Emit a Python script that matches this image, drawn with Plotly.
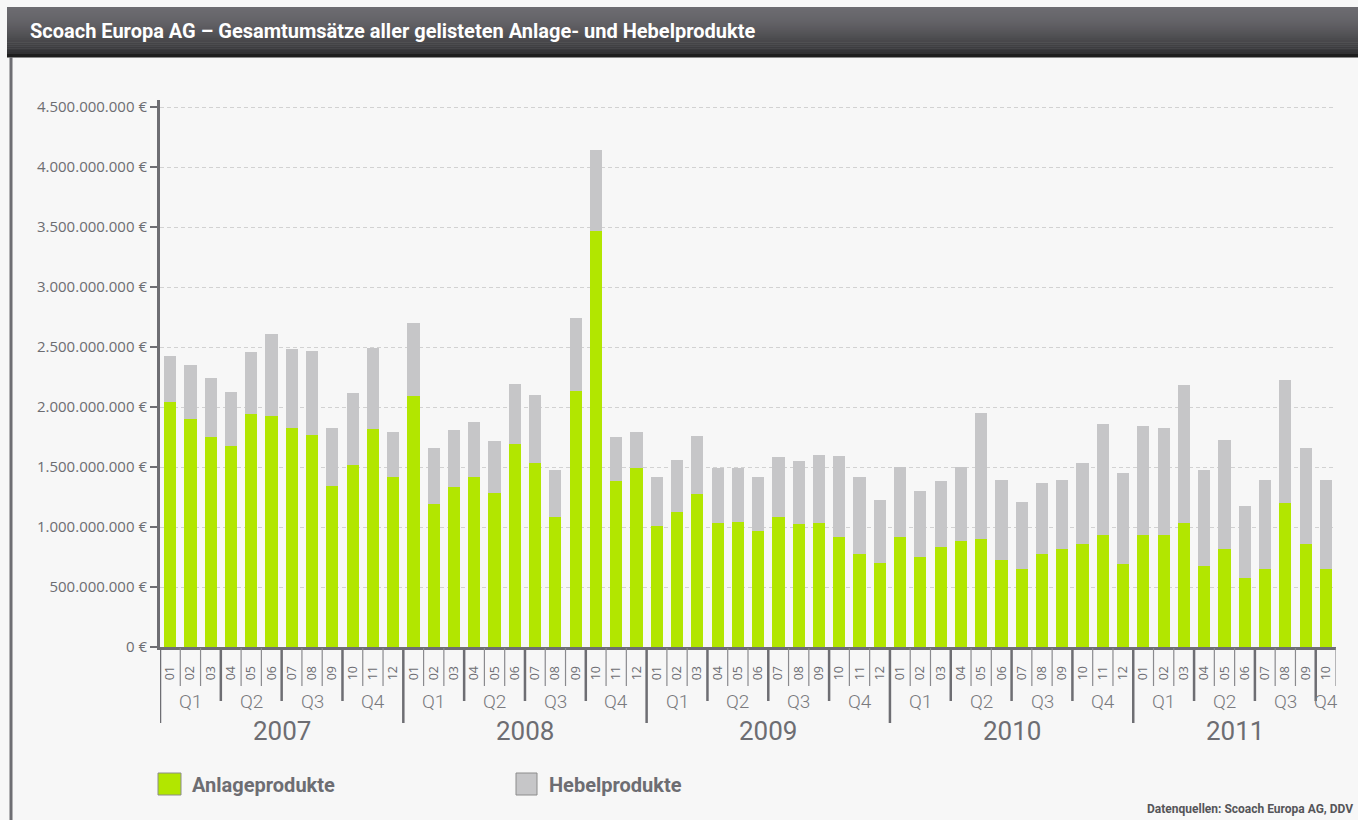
import plotly.graph_objects as go

# ---------------- data (values in million €) ----------------
years = ["2007", "2008", "2009", "2010", "2011"]
months_per_year = [12, 12, 12, 12, 10]
quarter_names = ["Q1", "Q2", "Q3", "Q4"]

anlage = [
    2038, 1902, 1748, 1673, 1939, 1924, 1822, 1766, 1339, 1513, 1816, 1420,   # 2007
    2094, 1188, 1330, 1420, 1287, 1689, 1531, 1083, 2131, 3470, 1380, 1488,   # 2008
    1011, 1123, 1271, 1030, 1045, 968, 1080, 1024, 1030, 919, 776, 702,       # 2009
    919, 752, 835, 885, 903, 721, 653, 776, 820, 857, 937, 690,               # 2010
    937, 931, 1030, 677, 813, 572, 653, 1203, 857, 653,                       # 2011
]
hebel = [
    387, 449, 491, 452, 520, 683, 662, 699, 483, 603, 677, 368,               # 2007
    606, 467, 476, 451, 427, 501, 566, 396, 613, 669, 368, 300,               # 2008
    409, 433, 486, 461, 446, 446, 501, 523, 566, 671, 638, 526,               # 2009
    578, 544, 545, 618, 1046, 668, 559, 594, 575, 680, 919, 758,              # 2010
    903, 891, 1151, 802, 916, 606, 742, 1021, 798, 742,                       # 2011
]
y_tick_values = [0, 500e6, 1000e6, 1500e6, 2000e6, 2500e6, 3000e6, 3500e6, 4000e6, 4500e6]

series_names = ["Anlageprodukte", "Hebelprodukte"]
title_text = "Scoach Europa AG – Gesamtumsätze aller gelisteten Anlage- und Hebelprodukte"
source_text = "Datenquellen: Scoach Europa AG, DDV"

# ---------------- derived ----------------
month_labels = []
for yr, n in zip(years, months_per_year):
    for m in range(1, n + 1):
        month_labels.append(f"{m:02d}")
idx = list(range(len(month_labels)))
y_tick_text = [f"{v:,.0f}".replace(",", ".") + " €" for v in y_tick_values]

GREEN = "#b2e600"
GREY = "#c6c6c8"
AXIS = "#6e6e73"
TEXT = "#6d6d72"
BG = "#f7f7f7"

W, H = 1358, 820
L, R, T, B = 160, 1336, 100, 647


def px(X):
    return (X - L) / (R - L)


def py(Y):
    return (B - Y) / (B - T)


fig = go.Figure()
fig.add_trace(go.Bar(x=idx, y=[v * 1e6 for v in anlage], name=series_names[0],
                     marker=dict(color=GREEN, line=dict(width=0))))
fig.add_trace(go.Bar(x=idx, y=[v * 1e6 for v in hebel], name=series_names[1],
                     marker=dict(color=GREY, line=dict(width=0))))

shapes = []
annotations = []

# header gradient
top_c = (108, 107, 112)
bot_c = (50, 50, 52)
hy0, hy1 = 7, 54
n = 24
for i in range(n):
    t = i / (n - 1)
    w = t ** 1.6
    c = tuple(int(top_c[k] * (1 - w) + bot_c[k] * w) for k in range(3))
    ya = hy0 + (hy1 - hy0) * i / n
    yb = hy0 + (hy1 - hy0) * (i + 1) / n + 0.6
    shapes.append(dict(type="rect", xref="paper", yref="paper",
                       x0=px(7), x1=px(1362), y0=py(ya), y1=py(yb),
                       fillcolor=f"rgb{c}", line=dict(width=0), layer="below"))
shapes.append(dict(type="rect", xref="paper", yref="paper",
                   x0=px(7), x1=px(1362), y0=py(54), y1=py(57.5),
                   fillcolor="#1e1e1e", line=dict(width=0), layer="below"))
# left frame line
shapes.append(dict(type="line", xref="paper", yref="paper",
                   x0=px(11), x1=px(11), y0=py(57), y1=py(822),
                   line=dict(color=AXIS, width=3)))

annotations.append(dict(text=f"<b>{title_text}</b>", xref="paper", yref="paper",
                        x=px(28), y=py(31), xanchor="left", yanchor="middle",
                        showarrow=False, font=dict(family="Roboto", size=20, color="white")))

# x-axis separators
total = len(month_labels)
year_starts = []
s = 0
for n_m in months_per_year:
    year_starts.append(s)
    s += n_m
for b in range(total + 1):
    xb = b - 0.5
    if b in year_starts:
        kind = "year"
    elif b < total and int(month_labels[b]) % 3 == 1:
        kind = "quarter"
    else:
        kind = "month"
    if kind == "year":
        y_end, wdt, col = 723, 2.5, AXIS
    elif kind == "quarter":
        y_end, wdt, col = 701, 2.5, AXIS
    else:
        y_end, wdt, col = 686, 1.2, "#8a8a8e"
    shapes.append(dict(type="line", xref="x", yref="paper", x0=xb, x1=xb,
                       y0=py(648), y1=py(y_end), line=dict(color=col, width=wdt)))

# quarter and year labels
for yi, (yr, n_m) in enumerate(zip(years, months_per_year)):
    start = year_starts[yi]
    for q in range(4):
        ms = [start + k for k in range(q * 3, min(q * 3 + 3, n_m))]
        if not ms:
            continue
        xc = sum(ms) / len(ms)
        annotations.append(dict(text=quarter_names[q], xref="x", yref="paper",
                                x=xc, y=py(701), xanchor="center", yanchor="middle",
                                showarrow=False,
                                font=dict(family="Roboto", size=19, color="#7a7a7e", weight=300)))
    xc = start + (n_m - 1) / 2
    annotations.append(dict(text=yr, xref="x", yref="paper", x=xc, y=py(731),
                            xanchor="center", yanchor="middle", showarrow=False,
                            font=dict(family="Roboto", size=26, color=TEXT)))

# legend
for (x0, x1, col, tx, name) in [(158, 181, GREEN, 190, series_names[0]),
                                (516, 537, GREY, 547, series_names[1])]:
    shapes.append(dict(type="rect", xref="paper", yref="paper",
                       x0=px(x0), x1=px(x1), y0=py(773), y1=py(795),
                       fillcolor=col, line=dict(color="#8c8c8c", width=1)))
    annotations.append(dict(text=f"<b>{name}</b>", xref="paper", yref="paper",
                            x=px(tx), y=py(785), xanchor="left", yanchor="middle",
                            showarrow=False, font=dict(family="Roboto", size=20, color=TEXT)))

annotations.append(dict(text=f"<b>{source_text}</b>", xref="paper", yref="paper",
                        x=px(1355), y=py(809), xanchor="right", yanchor="middle",
                        showarrow=False, font=dict(family="Roboto", size=12, color="#555559")))

fig.update_layout(
    width=W, height=H,
    margin=dict(l=L, r=W - R, t=T, b=H - B, pad=0),
    paper_bgcolor=BG, plot_bgcolor=BG,
    barmode="stack", bargap=0.4,
    showlegend=False,
    shapes=shapes, annotations=annotations,
    xaxis=dict(range=[-0.5, total - 0.5], tickmode="array", tickvals=idx, ticktext=month_labels,
               tickangle=-90, ticks="outside", ticklen=11, tickcolor="rgba(0,0,0,0)",
               tickfont=dict(family="Open Sans", size=12.5, color=TEXT),
               showline=True, linecolor=AXIS, linewidth=3, showgrid=False, zeroline=False,
               fixedrange=True),
    yaxis=dict(range=[0, 4.5e9 * (B - T) / 540], tickmode="array", tickvals=y_tick_values,
               ticktext=y_tick_text, ticks="outside", ticklen=7, tickwidth=2, tickcolor=AXIS,
               tickfont=dict(family="Open Sans", size=15, color=TEXT),
               showline=True, linecolor=AXIS, linewidth=3,
               showgrid=True, gridcolor="#d2d2d2", griddash="4px,3px", gridwidth=1,
               zeroline=False, fixedrange=True),
)

fig.write_html("out.html", config={"displayModeBar": False},
               post_script="document.body.style.margin='0';document.body.style.overflow='hidden';")
